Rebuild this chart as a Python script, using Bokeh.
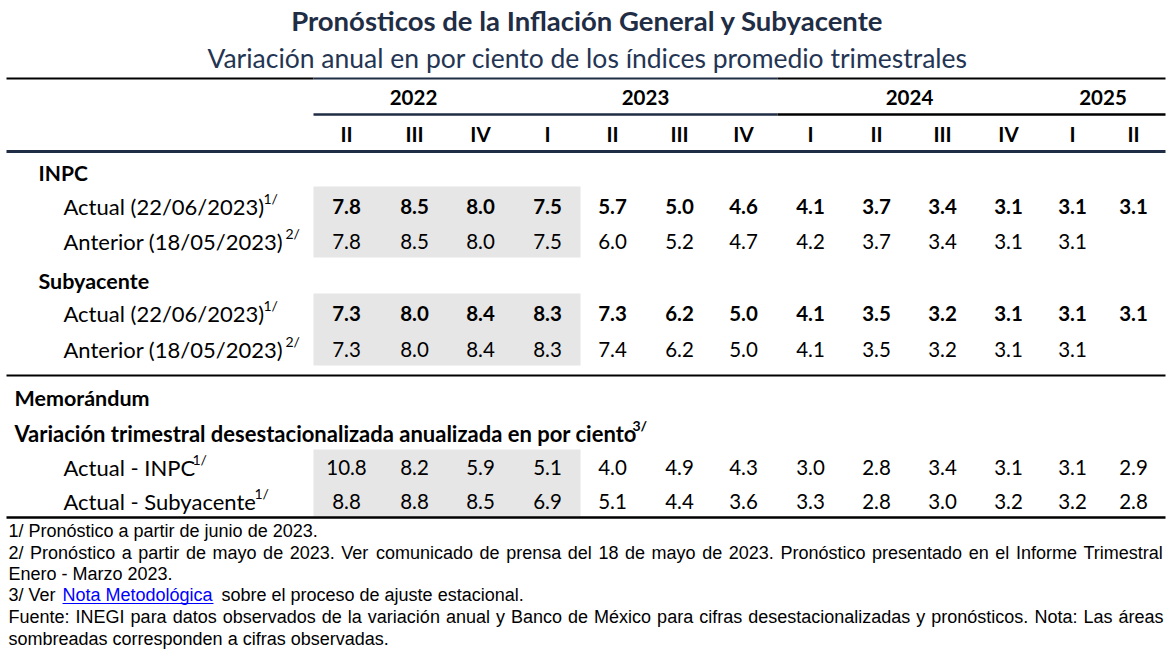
from bokeh.plotting import figure
from bokeh.models import Range1d
from bokeh.core.properties import value
from bokeh.embed import file_html
from bokeh.resources import INLINE
import unicodedata

# ---------------- data ----------------
title = "Pronósticos de la Inflación General y Subyacente"
subtitle = "Variación anual en por ciento de los índices promedio trimestrales"
years = ["2022", "2023", "2024", "2025"]
year_spans = [(0, 2), (3, 6), (7, 10), (11, 12)]
quarters = ["II", "III", "IV", "I", "II", "III", "IV", "I", "II", "III", "IV", "I", "II"]
observed_cols = 4

inpc_actual = [7.8, 8.5, 8.0, 7.5, 5.7, 5.0, 4.6, 4.1, 3.7, 3.4, 3.1, 3.1, 3.1]
inpc_anterior = [7.8, 8.5, 8.0, 7.5, 6.0, 5.2, 4.7, 4.2, 3.7, 3.4, 3.1, 3.1, None]
sub_actual = [7.3, 8.0, 8.4, 8.3, 7.3, 6.2, 5.0, 4.1, 3.5, 3.2, 3.1, 3.1, 3.1]
sub_anterior = [7.3, 8.0, 8.4, 8.3, 7.4, 6.2, 5.0, 4.1, 3.5, 3.2, 3.1, 3.1, None]
mem_inpc = [10.8, 8.2, 5.9, 5.1, 4.0, 4.9, 4.3, 3.0, 2.8, 3.4, 3.1, 3.1, 2.9]
mem_sub = [8.8, 8.8, 8.5, 6.9, 5.1, 4.4, 3.6, 3.3, 2.8, 3.0, 3.2, 3.2, 2.8]

lbl_actual = "Actual (22/06/2023)"
lbl_anterior = "Anterior (18/05/2023)"
lbl_mem_inpc = "Actual - INPC"
lbl_mem_sub = "Actual - Subyacente"
lbl_var = "Variación trimestral desestacionalizada anualizada en por ciento"

note1 = "1/ Pronóstico a partir de junio de 2023."
note2a = ("2/ Pronóstico a partir de mayo de 2023. Ver comunicado de prensa del 18 de mayo "
          "de 2023. Pronóstico presentado en el Informe Trimestral")
note2b = "Enero - Marzo 2023."
note3_pre, note3_link, note3_post = "3/ Ver", "Nota Metodológica", "sobre el proceso de ajuste estacional."
source_a = ("Fuente: INEGI para datos observados de la variación anual y Banco de México para "
            "cifras desestacionalizadas y pronósticos. Nota: Las áreas")
source_b = "sombreadas corresponden a cifras observadas."

# ---------------- layout ----------------
W, H = 1176, 653
col_x = [346, 414, 480, 547, 612, 679, 743, 810, 876, 942, 1008, 1072, 1133]
NAVY = "#1F2D45"
GRAY = "#E6E6E6"
TFONT = "Lato"
FFONT = "Liberation Sans"
NUM = 20.5
LBL = 22

p = figure(width=W, height=H, x_range=Range1d(0, W), y_range=Range1d(H, 0),
           output_backend="svg", toolbar_location=None, min_border=0,
           x_axis_location=None, y_axis_location=None)
p.grid.visible = False
p.outline_line_color = None
p.background_fill_color = "white"


def txt(x, y, s, size, bold=False, font=TFONT, color="black", align="left", baseline="middle"):
    p.text(x=[x], y=[y], text=[s], text_font=value(font), text_font_size=f"{size}px",
           text_font_style="bold" if bold else "normal", text_color=color,
           text_align=align, text_baseline=baseline)


# Arial / Liberation Sans advance widths (per 1000 em) for justified footnote lines
_AW = {" ": 278, ".": 278, "/": 278, ":": 278, "-": 333, ",": 278, "(": 333, ")": 333,
       "a": 556, "b": 556, "c": 500, "d": 556, "e": 556, "f": 278, "g": 556, "h": 556, "i": 222,
       "j": 222, "k": 500, "l": 222, "m": 833, "n": 556, "o": 556, "p": 556, "q": 556, "r": 333,
       "s": 500, "t": 278, "u": 556, "v": 500, "w": 722, "x": 500, "y": 500, "z": 500,
       "A": 667, "B": 667, "C": 722, "D": 722, "E": 667, "F": 611, "G": 778, "H": 722, "I": 278,
       "J": 500, "K": 667, "L": 556, "M": 833, "N": 722, "O": 778, "P": 667, "Q": 778, "R": 722,
       "S": 667, "T": 611, "U": 722, "V": 667, "W": 944, "X": 667, "Y": 667, "Z": 611}


def width(s, size):
    tot = 0
    for ch in s:
        base = unicodedata.normalize("NFD", ch)[0]
        tot += _AW.get(base, 556)
    return tot * size / 1000.0


def justify(line, y, size, x0=8, x1=1163):
    words = line.split(" ")
    ws = [width(w, size) for w in words]
    gap = (x1 - x0 - sum(ws)) / (len(words) - 1)
    xs, x = [], x0
    for w in ws:
        xs.append(x)
        x += w + gap
    p.text(x=xs, y=[y] * len(xs), text=words, text_font=value(FFONT), text_font_size=f"{size}px",
           text_align="left", text_baseline="middle", text_color="black")


# shaded observed blocks
half = 33
left = col_x[0] - half
right = col_x[observed_cols - 1] + half
for top, bot in [(186, 257), (293, 365), (449, 516)]:
    p.quad(left=[left], right=[right], top=[top], bottom=[bot], fill_color=GRAY, line_color=None)

# rules
def seg(x0, x1, y, color, w):
    p.segment(x0=[x0], x1=[x1], y0=[y], y1=[y], line_color=color, line_width=w)

seg(6, 313, 78, "black", 2)
seg(313, 777, 78, NAVY, 2)
seg(777, 1165, 78, "black", 2)
seg(313, 777, 114, NAVY, 2.5)
seg(777, 1165, 114, "black", 2.5)
seg(6, 1165, 151, NAVY, 3)
seg(6, 1165, 375, "black", 2)
seg(6, 1165, 517, "black", 2.5)

# titles
txt(587, 20, title, 27.5, bold=True, color=NAVY, align="center")
txt(587, 57, subtitle, 26.5, color="#243553", align="center")

# header
for yr, (a, b) in zip(years, year_spans):
    txt((col_x[a] + col_x[b]) / 2, 97, yr, NUM, bold=True, align="center")
p.text(x=col_x, y=[133] * len(col_x), text=quarters, text_font=value(TFONT),
       text_font_size=f"{NUM}px", text_font_style="bold", text_align="center", text_baseline="middle")


def row(vals, y, bold):
    xs = [x for x, v in zip(col_x, vals) if v is not None]
    ts = [f"{v:.1f}" for v in vals if v is not None]
    p.text(x=xs, y=[y] * len(xs), text=ts, text_font=value(TFONT), text_font_size=f"{NUM}px",
           text_font_style="bold" if bold else "normal", text_align="center", text_baseline="middle")


# section labels
txt(38, 172, "INPC", 21, bold=True)
txt(38, 280, "Subyacente", 21.5, bold=True)
txt(14, 397, "Memorándum", 21.5, bold=True)
txt(14, 433, lbl_var, 22, bold=True)
txt(632, 425, "3/", 14, bold=True)

for y, lbl, sup, supx in [(206, lbl_actual, "1/", 263), (241, lbl_anterior, "2/", 285),
                          (313, lbl_actual, "1/", 263), (349, lbl_anterior, "2/", 285),
                          (467, lbl_mem_inpc, "1/", 192), (501, lbl_mem_sub, "1/", 254)]:
    txt(63, y, lbl, LBL)
    txt(supx, y - 8, sup, 14)

row(inpc_actual, 206, True)
row(inpc_anterior, 241, False)
row(sub_actual, 313, True)
row(sub_anterior, 349, False)
row(mem_inpc, 467, False)
row(mem_sub, 501, False)

# footnotes
FS = 18
fy = [530, 552, 573, 594, 616, 638]
txt(8, fy[0], note1, FS, font=FFONT)
justify(note2a, fy[1], FS)
txt(8, fy[2], note2b, FS, font=FFONT)
txt(8, fy[3], note3_pre, FS, font=FFONT)
txt(62, fy[3], note3_link, FS, font=FFONT, color="#0000FF")
seg(62, 213, fy[3] + 9, "#0000FF", 1)
txt(221, fy[3], note3_post, FS, font=FFONT)
justify(source_a, fy[4], FS)
txt(8, fy[5], source_b, FS, font=FFONT)

open("out.html", "w").write(file_html(p, INLINE))
